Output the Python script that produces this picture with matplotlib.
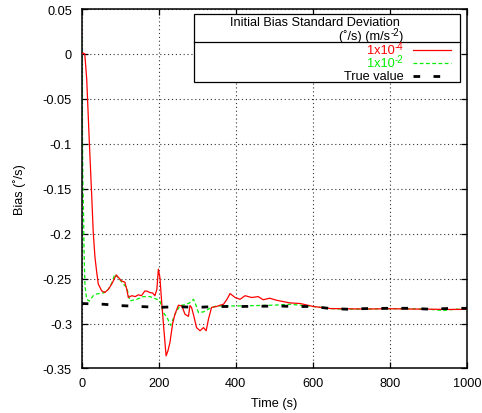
import matplotlib
matplotlib.use("Agg")
import matplotlib.pyplot as plt
from matplotlib.patches import Rectangle
from matplotlib.lines import Line2D

plt.rcParams['font.family'] = ['Liberation Sans', 'DejaVu Sans']

# ---- data ----
red_t = [0, 4, 8, 13, 20, 26, 30, 34.5, 39, 43, 52, 60, 69, 78, 86, 90, 96, 103, 112, 117,
         121, 130, 139, 147, 155, 164, 170, 177, 184, 190, 195, 199, 203, 207, 212, 219, 224,
         229, 236, 242, 251, 260, 268, 277, 281, 285, 290, 298, 307, 316, 323, 329, 337, 350,
         359, 368, 377, 385, 398, 411, 424, 441, 458, 471, 488, 505, 540, 567, 601, 645, 689,
         740, 800, 850, 900, 950, 1000]
red_v = [0.0, 0.001, 0.0, -0.028, -0.100, -0.158, -0.199, -0.2265, -0.243, -0.256, -0.2637,
         -0.2655, -0.262, -0.256, -0.249, -0.246, -0.249, -0.2525, -0.254, -0.262, -0.271,
         -0.269, -0.270, -0.268, -0.269, -0.2637, -0.264, -0.2655, -0.266, -0.269, -0.262,
         -0.2395, -0.249, -0.273, -0.300, -0.336, -0.330, -0.321, -0.300, -0.2896, -0.2796,
         -0.2804, -0.2896, -0.292, -0.280, -0.282, -0.290, -0.3045, -0.308, -0.3045, -0.308,
         -0.295, -0.282, -0.281, -0.2796, -0.2785, -0.273, -0.2666, -0.271, -0.273, -0.269,
         -0.271, -0.270, -0.2735, -0.2718, -0.274, -0.277, -0.2777, -0.281, -0.2833, -0.2836,
         -0.2838, -0.2835, -0.2838, -0.284, -0.2843, -0.2842]

green_t = [0, 1, 2, 3, 4.5, 6, 8.5, 13, 20, 30, 39, 56, 69, 78, 86, 95, 108, 117, 125, 143,
           160, 177, 195, 203, 212, 221, 231, 242, 255, 268, 280, 290, 296, 303, 316, 333, 350,
           400, 450, 500, 540, 600, 650, 700, 750, 800, 850, 900, 938, 970, 1000]
green_v = [0.0185, -0.02, -0.09, -0.14, -0.17, -0.217, -0.258, -0.273, -0.275, -0.269, -0.267,
           -0.266, -0.262, -0.255, -0.245, -0.249, -0.256, -0.260, -0.2748, -0.273, -0.270,
           -0.270, -0.273, -0.2748, -0.2878, -0.293, -0.302, -0.2896, -0.280, -0.279, -0.277,
           -0.273, -0.279, -0.2878, -0.287, -0.283, -0.2804, -0.2804, -0.2800, -0.2795, -0.2785,
           -0.281, -0.2835, -0.284, -0.2838, -0.2835, -0.2835, -0.284, -0.2855, -0.284, -0.2842]

true_t = [0, 56, 100, 151, 199, 251, 298, 350, 411, 515, 549, 601, 645, 689, 740, 800, 852,
          904, 947, 1000]
true_v = [-0.2777, -0.2785, -0.280, -0.281, -0.282, -0.2812, -0.282, -0.281, -0.281, -0.2805,
          -0.281, -0.281, -0.2833, -0.284, -0.2833, -0.283, -0.283, -0.284, -0.2833, -0.283]

x_ticks = [0, 200, 400, 600, 800, 1000]
x_labels = ['0', '200', '400', '600', '800', '1000']
y_ticks = [0.05, 0, -0.05, -0.1, -0.15, -0.2, -0.25, -0.3, -0.35]
y_labels = ['0.05', '0', '-0.05', '-0.1', '-0.15', '-0.2', '-0.25', '-0.3', '-0.35']

legend_title = 'Initial Bias Standard Deviation'
legend_units = ('(˚/s) (m/s', '-2', ')')
series_names = [('1x10', '-4', ''), ('1x10', '-2', ''), ('True value', '', '')]

FS = 9.2
SFS = 7.0

# ---- figure ----
fig = plt.figure(figsize=(4.82, 4.14), dpi=100)
ax = fig.add_axes([0.1695, 0.1075, 0.969 - 0.1695, 0.9758 - 0.1075])

red_style = dict(color='#ff0000', lw=0.9, ls='-')
green_style = dict(color='#00ee00', lw=0.9, ls=(0, (3, 2)))
true_style = dict(color='black', lw=2.0, ls=(0, (2.4, 4.8)))

ax.plot(red_t, red_v, zorder=3, **red_style)
ax.plot(green_t, green_v, zorder=2, **green_style)
ax.plot(true_t, true_v, zorder=4, **true_style)

ax.set_xlim(0, 1000)
ax.set_ylim(-0.35, 0.05)
ax.set_xticks(x_ticks)
ax.set_xticklabels(x_labels)
ax.set_yticks(y_ticks)
ax.set_yticklabels(y_labels)
ax.tick_params(direction='in', length=4, width=0.9, top=True, right=True,
               labelsize=FS, colors='black')
ax.tick_params(axis='y', pad=7)
ax.tick_params(axis='x', pad=6)
ax.grid(True, color='#333333', lw=0.8, ls=(0, (1, 2.5)))
for s in ax.spines.values():
    s.set_linewidth(1.1)

ax.set_xlabel('Time (s)', fontsize=FS, labelpad=6)
ax.set_ylabel('Bias (˚/s)', fontsize=FS, labelpad=12)

# ---- legend box (gnuplot style) ----
bx0, bx1, by0, by1, bsep = 0.2915, 0.982, 0.798, 0.986, 0.909
ax.add_patch(Rectangle((bx0, by0), bx1 - bx0, by1 - by0, transform=ax.transAxes,
                       facecolor='white', edgecolor='black', lw=0.9, zorder=10))
ax.add_line(Line2D([bx0, bx1], [bsep, bsep], transform=ax.transAxes, color='black',
                   lw=0.9, zorder=11))
tx = 0.835
renderer = fig.canvas.get_renderer()


def sup_text(x, y, parts, color):
    """Right-aligned text with a superscript part, placed at axes coords (x, y)."""
    base, sup, tail = parts
    off = 0.0
    if tail:
        t = ax.annotate(tail, (x, y), xycoords='axes fraction', xytext=(0, 0),
                        textcoords='offset pixels', ha='right', va='center',
                        fontsize=FS, color=color, zorder=12)
        off += t.get_window_extent(renderer).width
    if sup:
        t = ax.annotate(sup, (x, y), xycoords='axes fraction', xytext=(-off, 4.0),
                        textcoords='offset pixels', ha='right', va='center',
                        fontsize=SFS, color=color, zorder=12)
        off += t.get_window_extent(renderer).width
    ax.annotate(base, (x, y), xycoords='axes fraction', xytext=(-off, 0),
                textcoords='offset pixels', ha='right', va='center',
                fontsize=FS, color=color, zorder=12)


ax.text(0.826, 0.965, legend_title, transform=ax.transAxes, ha='right', va='center',
        fontsize=FS, zorder=12)
sup_text(tx, 0.925, legend_units, 'black')
ys = [0.886, 0.851, 0.814]
styles = [red_style, green_style, true_style]
colors = ['#ff0000', '#00ee00', 'black']
for parts, yy, st, c in zip(series_names, ys, styles, colors):
    sup_text(tx, yy, parts, c)
    ax.add_line(Line2D([0.860, 0.958], [yy, yy], transform=ax.transAxes, zorder=12, **st))

fig.savefig('out.png', dpi=100)
